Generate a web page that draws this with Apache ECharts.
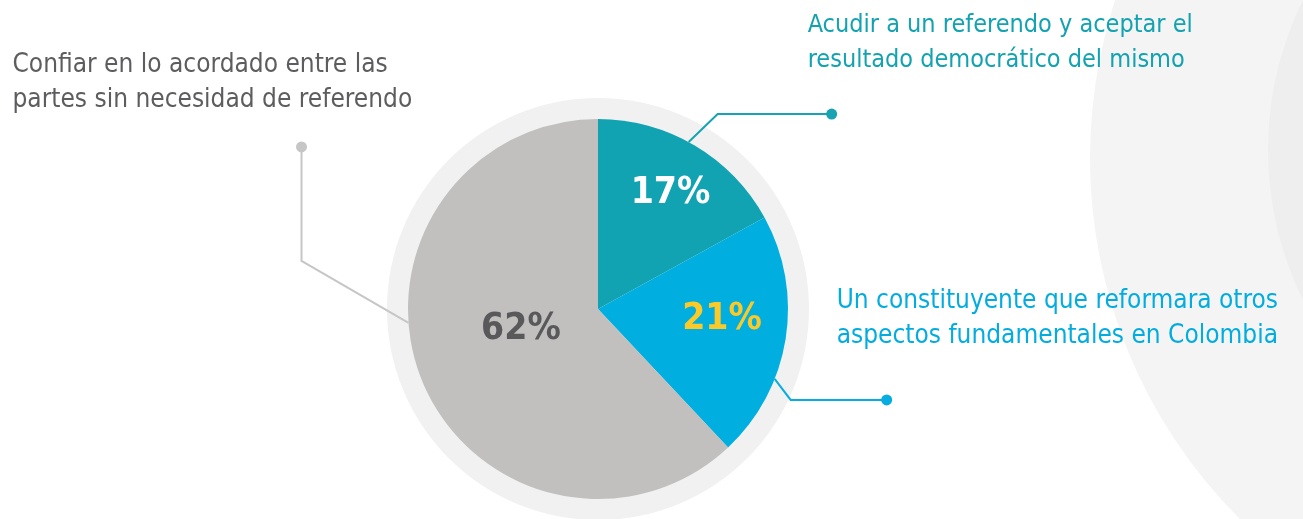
<!DOCTYPE html>
<html>
<head>
<meta charset="utf-8">
<script src="https://cdn.jsdelivr.net/npm/echarts@6/dist/echarts.min.js"></script>
<style>
html, body { margin: 0; padding: 0; background: #fff; }
#chart { width: 1303px; height: 519px; }
</style>
</head>
<body>
<div id="chart"></div>
<script>
// datos
var categorias = [
    'Acudir a un referendo y aceptar el\nresultado democrático del mismo',
    'Un constituyente que reformara otros\naspectos fundamentales en Colombia',
    'Confiar en lo acordado entre las\npartes sin necesidad de referendo'
];
var porcentajes = [17, 21, 62];

// estilos
var coloresSector = ['#11a3b2', '#00afe0', '#c1c0be'];
var coloresTexto = ['#13a2b0', '#03acdf', '#5d5d5f'];
var coloresPct = ['#ffffff', '#fbc928', '#59595b'];
var coloresLinea = ['#17a3b1', '#07ade0', '#c6c6c6'];
var tamTexto = [25, 26, 26];

var CX = 598, CY = 309, R = 190;
var FUENTE = "'Liberation Sans Narrow', 'DejaVu Sans Condensed', 'Roboto Condensed', sans-serif";

// guias: angulo de salida, codo relativo, tramo final relativo, desplazamiento del texto
var guias = [
    { ang: 28.5, codo: [29, -28], tramo: [114, 0], texto: [-24, -106] },
    { ang: 111.6, codo: [16, 21], tramo: [96, 0], texto: [-50, -116] },
    { ang: 265.8, codo: [-107, -62], tramo: [0, -114], texto: [-289, -99] }
];
// posicion de los porcentajes: angulo, fraccion del radio
var posPct = [[32, 0.72], [95, 0.655], [255, 0.42]];

var polar = function (ang, r) {
    var a = ang * Math.PI / 180;
    return [CX + r * Math.sin(a), CY - r * Math.cos(a)];
};

var puntosGuia = function (i) {
    var g = guias[i];
    var s = polar(g.ang, R);
    var c = [s[0] + g.codo[0], s[1] + g.codo[1]];
    var f = [c[0] + g.tramo[0], c[1] + g.tramo[1]];
    return [s, c, f];
};

var chart = echarts.init(document.getElementById('chart'));

var transparente = { color: 'rgba(0,0,0,0)', borderWidth: 0 };

chart.setOption({
    animation: false,
    backgroundColor: '#ffffff',
    graphic: [
        { type: 'circle', silent: true, z: 0, shape: { cx: 1600, cy: 158, r: 510 }, style: { fill: '#f4f4f4' } },
        { type: 'circle', silent: true, z: 0, shape: { cx: 1607, cy: 150, r: 339 }, style: { fill: '#eeeeee' } }
    ],
    series: [
        // anillo de fondo
        {
            type: 'pie', silent: true, z: 1,
            center: [CX, CY], radius: 211,
            itemStyle: { color: '#f1f1f1', borderWidth: 0 },
            label: { show: false }, labelLine: { show: false },
            data: [{ value: 1 }]
        },
        // torta con porcentajes
        {
            type: 'pie', z: 2,
            center: [CX, CY], radius: R,
            startAngle: 90, clockwise: true,
            avoidLabelOverlap: false,
            emphasis: { disabled: true },
            itemStyle: { borderWidth: 0 },
            data: porcentajes.map(function (v, i) {
                return {
                    value: v, name: categorias[i],
                    itemStyle: { color: coloresSector[i] },
                    label: { color: coloresPct[i] }
                };
            }),
            label: {
                show: true, position: 'inside',
                formatter: function (p) { return p.value + '%'; },
                fontFamily: FUENTE, fontWeight: 'bold', fontSize: 37
            },
            labelLine: { show: false },
            labelLayout: function (p) {
                var q = polar(posPct[p.dataIndex][0], posPct[p.dataIndex][1] * R);
                return { x: q[0], y: q[1], align: 'center', verticalAlign: 'middle' };
            }
        },
        // lineas guia con punto
        {
            type: 'pie', silent: true, z: 3,
            center: [CX, CY], radius: R,
            startAngle: 90, clockwise: true,
            avoidLabelOverlap: false,
            itemStyle: transparente,
            data: porcentajes.map(function (v, i) {
                return {
                    value: v, name: categorias[i],
                    label: { rich: { d: { width: 11, height: 11, borderRadius: 6, backgroundColor: coloresLinea[i] } } },
                    labelLine: { lineStyle: { color: coloresLinea[i] } }
                };
            }),
            label: { show: true, position: 'outside', formatter: '{d|}' },
            labelLine: { show: true, length: 10, length2: 10, lineStyle: { width: 2 } },
            labelLayout: function (p) {
                var pts = puntosGuia(p.dataIndex);
                return { x: pts[2][0], y: pts[2][1], align: 'center', verticalAlign: 'middle', labelLinePoints: pts };
            }
        },
        // textos de categoria
        {
            type: 'pie', silent: true, z: 4,
            center: [CX, CY], radius: R,
            startAngle: 90, clockwise: true,
            avoidLabelOverlap: false,
            itemStyle: transparente,
            data: porcentajes.map(function (v, i) {
                return { value: v, name: categorias[i], label: { color: coloresTexto[i], fontSize: tamTexto[i] } };
            }),
            label: {
                show: true, position: 'outside', formatter: '{b}',
                fontFamily: FUENTE, fontSize: 26, lineHeight: 35
            },
            labelLine: { show: false },
            labelLayout: function (p) {
                var f = puntosGuia(p.dataIndex)[2];
                var t = guias[p.dataIndex].texto;
                return { x: f[0] + t[0], y: f[1] + t[1], align: 'left', verticalAlign: 'top' };
            }
        }
    ]
});
</script>
</body>
</html>
